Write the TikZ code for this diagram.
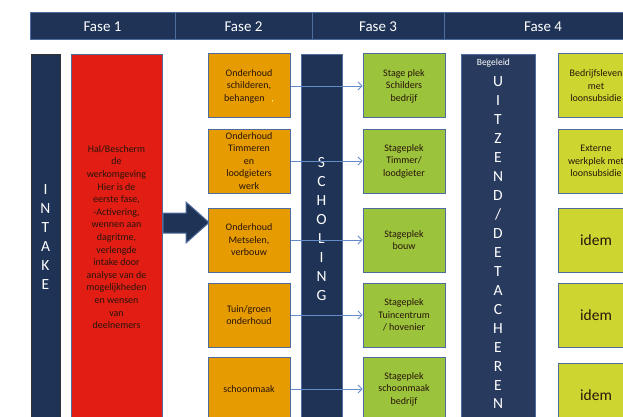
\documentclass[tikz,border=0pt]{standalone}
\usepackage{fontspec}
\setmainfont{Carlito}
\usetikzlibrary{arrows.meta}
\definecolor{donker}{RGB}{31,51,86}
\definecolor{balk}{RGB}{40,58,94}
\definecolor{rand}{RGB}{78,108,158}
\definecolor{oranje}{RGB}{230,155,0}
\definecolor{groen}{RGB}{155,195,60}
\definecolor{geel}{RGB}{205,214,48}
\definecolor{rood}{RGB}{226,30,20}
\definecolor{lijn}{RGB}{100,140,200}
\definecolor{tekst}{RGB}{40,20,10}

\begin{document}
\begin{tikzpicture}[x=1pt, y=-1pt, line width=1pt,
  fase/.style={draw=rand, fill=donker, text=white, minimum height=27pt, inner sep=0pt, font=\fontsize{15}{18}\selectfont},
  vak/.style={draw=rand, text=tekst, minimum width=82pt, minimum height=64pt, inner sep=1pt, align=center, font=\fontsize{10}{12.5}\selectfont},
  letters/.style={text=white, align=center, font=\fontsize{15.5}{19}\selectfont},
  pijltje/.style={lijn, line width=0.8pt, -{Straight Barb[length=4pt,width=8pt]}}]
\useasboundingbox (0,0) rectangle (623,417);
\clip (0,0) rectangle (623,417);
\node[fase, minimum width=145pt] (fase1) at (102.5,26.5) {Fase 1};
\node[fase, minimum width=137pt] (fase2) at (243.5,26.5) {Fase 2};
\node[fase, minimum width=132pt] (fase3) at (378,26.5) {Fase 3};
\node[fase, minimum width=198pt] (fase4) at (543,26.5) {Fase 4};
\node[draw=black!80, fill=donker, minimum width=29pt, minimum height=380pt, anchor=north] (intake) at (45.5,54) {};
\node[letters] (intaketxt) at (45.5,237) {I\\N\\T\\A\\K\\E};
\node[draw=rand, fill=rood, minimum width=91pt, minimum height=380pt, anchor=north] (rood) at (116.5,54) {};
\node[text=tekst, align=center, font=\fontsize{10}{12.6}\selectfont] (roodtxt) at (116.5,237) {Hal/Bescherm\\de\\werkomgeving\\Hier is de\\eerste fase,\\-Activering,\\wennen aan\\dagritme,\\verlengde\\intake door\\analyse van de\\mogelijkheden\\en wensen\\van\\deelnemers};
\draw[rand, fill=donker] (163,213) -- (186,213) -- (186,202) -- (209,222.5) -- (186,243) -- (186,233) -- (163,233) -- cycle;
\node[draw=rand, fill=donker, minimum width=41pt, minimum height=380pt, anchor=north] (scholing) at (321.5,54) {};
\node[letters] (scholingtxt) at (321.5,229.5) {S\\C\\H\\O\\L\\I\\N\\G};
\node[draw=rand, fill=balk, minimum width=74pt, minimum height=380pt, anchor=north] (uitzend) at (498,54) {};
\node[text=white, anchor=west, font=\fontsize{9.5}{11}\selectfont] (begeleid) at (473,63) {Begeleid};
\node[letters, font=\fontsize{15.5}{18.94}\selectfont] (uitzendtxt) at (498,243) {U\\I\\T\\Z\\E\\N\\D\\/\\D\\E\\T\\A\\C\\H\\E\\R\\E\\N};
\node[vak, fill=oranje] (ond1) at (249,86) {Onderhoud\\schilderen,\\behangen\ \ \ {\color{yellow!40},}};
\node[vak, fill=oranje] (ond2) at (249,161) {Onderhoud\\Timmeren\\en\\loodgieters\\werk};
\node[vak, fill=oranje] (ond3) at (249,240) {Onderhoud\\Metselen,\\verbouw};
\node[vak, fill=oranje] (ond4) at (249,315) {Tuin/groen\\onderhoud};
\node[vak, fill=oranje] (ond5) at (249,389) {schoonmaak};
\node[vak, fill=groen] (stage1) at (404,86) {Stage plek\\Schilders\\bedrijf};
\node[vak, fill=groen] (stage2) at (404,161) {Stageplek\\Timmer/\\loodgieter};
\node[vak, fill=groen] (stage3) at (404,240) {Stageplek\\bouw};
\node[vak, fill=groen] (stage4) at (404,315) {Stageplek\\Tuincentrum\\/ hovenier};
\node[vak, fill=groen] (stage5) at (404,389) {Stageplek\\schoonmaak\\bedrijf};
\node[vak, fill=geel, minimum width=76pt] (werk1) at (596,86) {Bedrijfsleven\\met\\loonsubsidie};
\node[vak, fill=geel, minimum width=76pt] (werk2) at (596,161) {Externe\\werkplek met\\loonsubsidie};
\node[vak, fill=geel, minimum width=76pt, font=\fontsize{15.5}{18}\selectfont] (werk3) at (596,240) {idem};
\node[vak, fill=geel, minimum width=76pt, font=\fontsize{15.5}{18}\selectfont] (werk4) at (596,315) {idem};
\node[vak, fill=geel, minimum width=76pt, font=\fontsize{15.5}{18}\selectfont] (werk5) at (596,395) {idem};
\draw[pijltje] (ond1.east) -- (stage1.west);
\draw[pijltje] (ond2.east) -- (stage2.west);
\draw[pijltje] (ond3.east) -- (stage3.west);
\draw[pijltje] (ond4.east) -- (stage4.west);
\draw[pijltje] (ond5.east) -- (stage5.west);
\end{tikzpicture}
\end{document}
